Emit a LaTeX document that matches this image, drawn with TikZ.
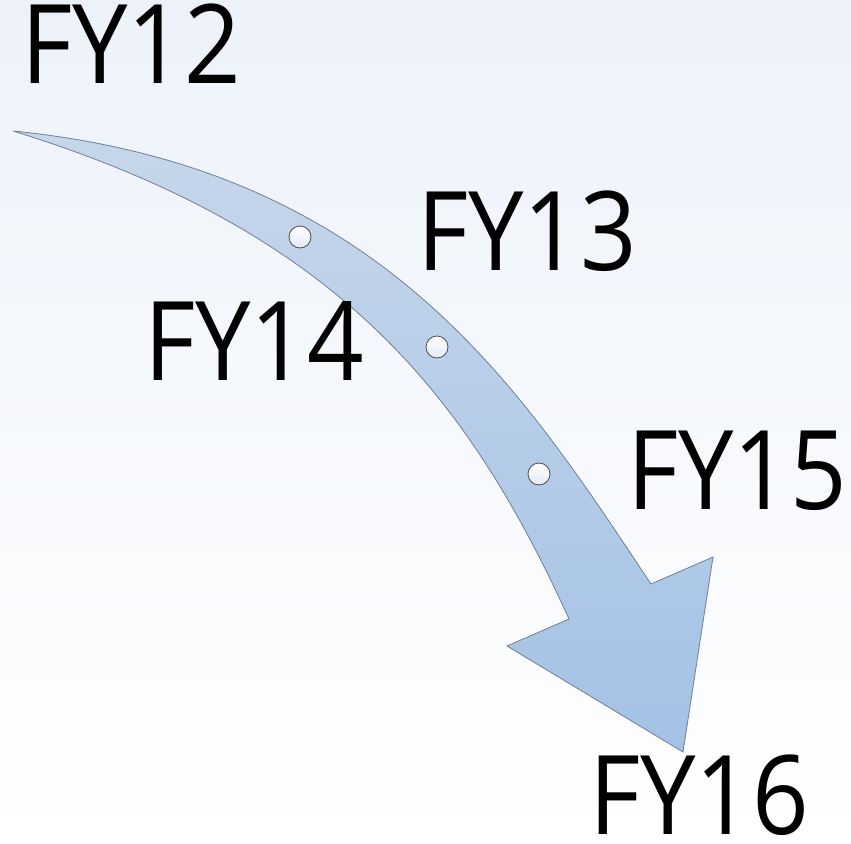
\documentclass[tikz,border=0pt]{standalone}
\usepackage{fontspec}
\setmainfont{Open Sans}[FakeStretch=0.9]
\usepackage{tikz}
\definecolor{bgtop}{rgb}{0.93,0.95,0.98}
\definecolor{arrtop}{rgb}{0.78,0.84,0.92}
\definecolor{arrbot}{rgb}{0.64,0.76,0.90}
\definecolor{arredge}{rgb}{0.44,0.50,0.58}
\definecolor{dotbot}{rgb}{0.89,0.92,0.96}
\tikzset{
  fylabel/.style={anchor=base west,inner sep=0pt,font=\fontsize{110}{110}\selectfont},
  yeardot/.style={circle,minimum size=22pt,inner sep=0pt,draw=black!70,line width=0.8pt,top color=white,bottom color=dotbot}
}
\begin{document}
\begin{tikzpicture}[line cap=round,line join=miter,x=1pt,y=-1pt]
\useasboundingbox (0,0) rectangle (851,843);
\shade[top color=bgtop,bottom color=white] (0,0) rectangle (851,843);
% curved arrow
\shade[top color=arrtop,bottom color=arrbot,draw=arredge,line width=0.8pt]
  (13,131) .. controls (383,168) and (521,389) .. (651,584)
  -- (713,557) -- (683,752) -- (507,646) -- (569,619)
  .. controls (464,388) and (333,230) .. (13,131)
  -- cycle;
% year marks
\node[yeardot] (d13) at (300,237) {};
\node[yeardot] (d14) at (437,347) {};
\node[yeardot] (d15) at (539,474) {};
\node[fylabel] (fy12) at (21,84) {FY12};
\node[fylabel] (fy13) at (417,270) {FY13};
\node[fylabel] (fy14) at (144,380) {FY14};
\node[fylabel] (fy15) at (627,509) {FY15};
\node[fylabel] (fy16) at (589,834) {FY16};
\end{tikzpicture}
\end{document}
